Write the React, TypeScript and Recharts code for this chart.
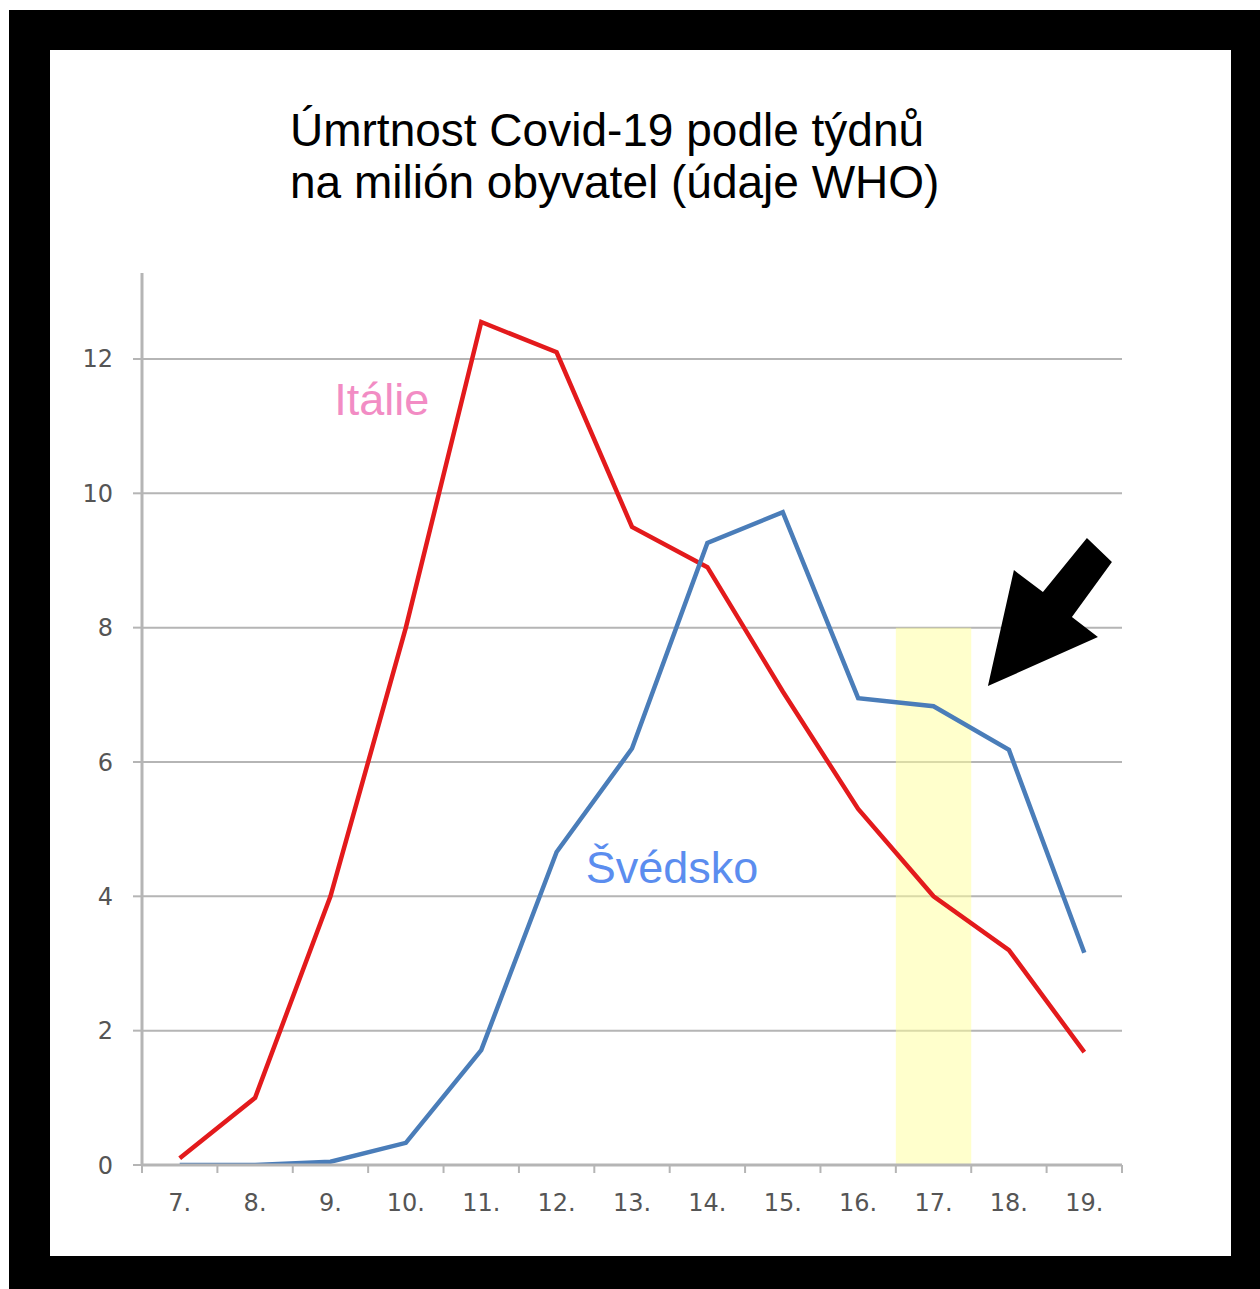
import React from "react";
import {
  LineChart,
  Line,
  XAxis,
  YAxis,
  CartesianGrid,
  ReferenceArea,
  ReferenceDot,
} from "recharts";

const weeks = ["7.", "8.", "9.", "10.", "11.", "12.", "13.", "14.", "15.", "16.", "17.", "18.", "19."];
const italy = [0.1, 1.0, 4.0, 8.0, 12.55, 12.1, 9.5, 8.9, 7.05, 5.3, 4.0, 3.2, 1.68];
const sweden = [0, 0, 0.05, 0.33, 1.71, 4.66, 6.2, 9.26, 9.72, 6.95, 6.83, 6.18, 3.16];
const yTicks = [0, 2, 4, 6, 8, 10, 12];

const chartData = weeks.map((week, i) => ({
  week,
  italy: italy[i],
  sweden: sweden[i],
}));

const W = 1181;
const H = 1206;
const MARGIN = { top: 223, right: 109, bottom: 31, left: 0 };
const Y_AXIS_W = 92;
const BAND = (W - MARGIN.left - MARGIN.right - Y_AXIS_W) / weeks.length;

const GRAY = "#b5b5b5";
const TICK_TEXT = "#555";
const SANS = "'Liberation Sans', Arial, sans-serif";
const TICK_FONT = "'DejaVu Sans', sans-serif";

// week label at the band centre, small tick marks on the band edges
const WeekTick = (props: any) => {
  const { x, y, payload, index } = props;
  const axisY = y - 29;
  return (
    <g>
      <line x1={x - BAND / 2} x2={x - BAND / 2} y1={axisY} y2={axisY + 8} stroke={GRAY} strokeWidth={2} />
      {index === weeks.length - 1 && (
        <line x1={x + BAND / 2} x2={x + BAND / 2} y1={axisY} y2={axisY + 8} stroke={GRAY} strokeWidth={2} />
      )}
      <text x={x} y={y} dy="0.71em" textAnchor="middle" fill={TICK_TEXT} fontSize={24} fontFamily={TICK_FONT}>
        {payload.value}
      </text>
    </g>
  );
};

// arrow outline, relative to the point it is anchored on
const arrowShape = (props: any) => {
  const { cx, cy } = props;
  const pts = [
    [-21, 0],
    [5, -116],
    [34, -94],
    [78, -148],
    [103, -124],
    [63, -69],
    [89, -49],
  ]
    .map(([dx, dy]) => `${cx + dx},${cy + dy}`)
    .join(" ");
  return <polygon points={pts} fill="#000" />;
};

const textShape = (label: string, color: string, dx: number) => (props: any) => (
  <text x={props.cx + dx} y={props.cy} textAnchor="middle" fill={color} fontSize={45} fontFamily={SANS}>
    {label}
  </text>
);

export default function App() {
  return (
    <div style={{ position: "absolute", left: 9, top: 10, width: 1251, height: 1279, background: "#000" }}>
      <div style={{ position: "absolute", left: 41, top: 40, width: W, height: H, background: "#fff" }}>
        <div
          style={{
            position: "absolute",
            left: 240,
            top: 54,
            fontFamily: SANS,
            fontSize: 46,
            lineHeight: "52px",
            color: "#000",
            whiteSpace: "nowrap",
          }}
        >
          Úmrtnost Covid-19 podle týdnů
          <br />
          na milión obyvatel (údaje WHO)
        </div>
        <LineChart
          width={W}
          height={H}
          data={chartData}
          margin={MARGIN}
          style={{ position: "absolute", left: 0, top: 0 }}
        >
          <CartesianGrid
            vertical={false}
            horizontalValues={yTicks}
            stroke={GRAY}
            strokeWidth={2}
          />
          <XAxis
            dataKey="week"
            type="category"
            scale="band"
            axisLine={{ stroke: GRAY, strokeWidth: 3 }}
            tickLine={false}
            tickSize={0}
            tickMargin={29}
            height={60}
            interval={0}
            tick={WeekTick}
          />
          <YAxis
            width={Y_AXIS_W}
            domain={[0, 13.28]}
            ticks={yTicks}
            allowDataOverflow
            tickSize={9}
            tickMargin={20}
            tickLine={{ stroke: GRAY, strokeWidth: 2 }}
            axisLine={{ stroke: GRAY, strokeWidth: 3 }}
            tick={{ fill: TICK_TEXT, fontSize: 24, fontFamily: TICK_FONT }}
          />
          <ReferenceArea
            x1="17."
            x2="17."
            y1={0}
            y2={8}
            fill="#ffff99"
            fillOpacity={0.5}
            stroke="none"
          />
          <Line
            type="linear"
            dataKey="italy"
            stroke="#e31a1c"
            strokeWidth={4.5}
            dot={false}
            isAnimationActive={false}
          />
          <Line
            type="linear"
            dataKey="sweden"
            stroke="#4a7db9"
            strokeWidth={4.5}
            dot={false}
            isAnimationActive={false}
          />
          <ReferenceDot x="10." y={11.17} r={0} shape={textShape("Itálie", "#f28cc4", -24)} />
          <ReferenceDot x="13." y={4.2} r={0} shape={textShape("Švédsko", "#5b8def", 40)} />
          <ReferenceDot x="18." y={7.13} r={0} shape={arrowShape} />
        </LineChart>
      </div>
    </div>
  );
}
